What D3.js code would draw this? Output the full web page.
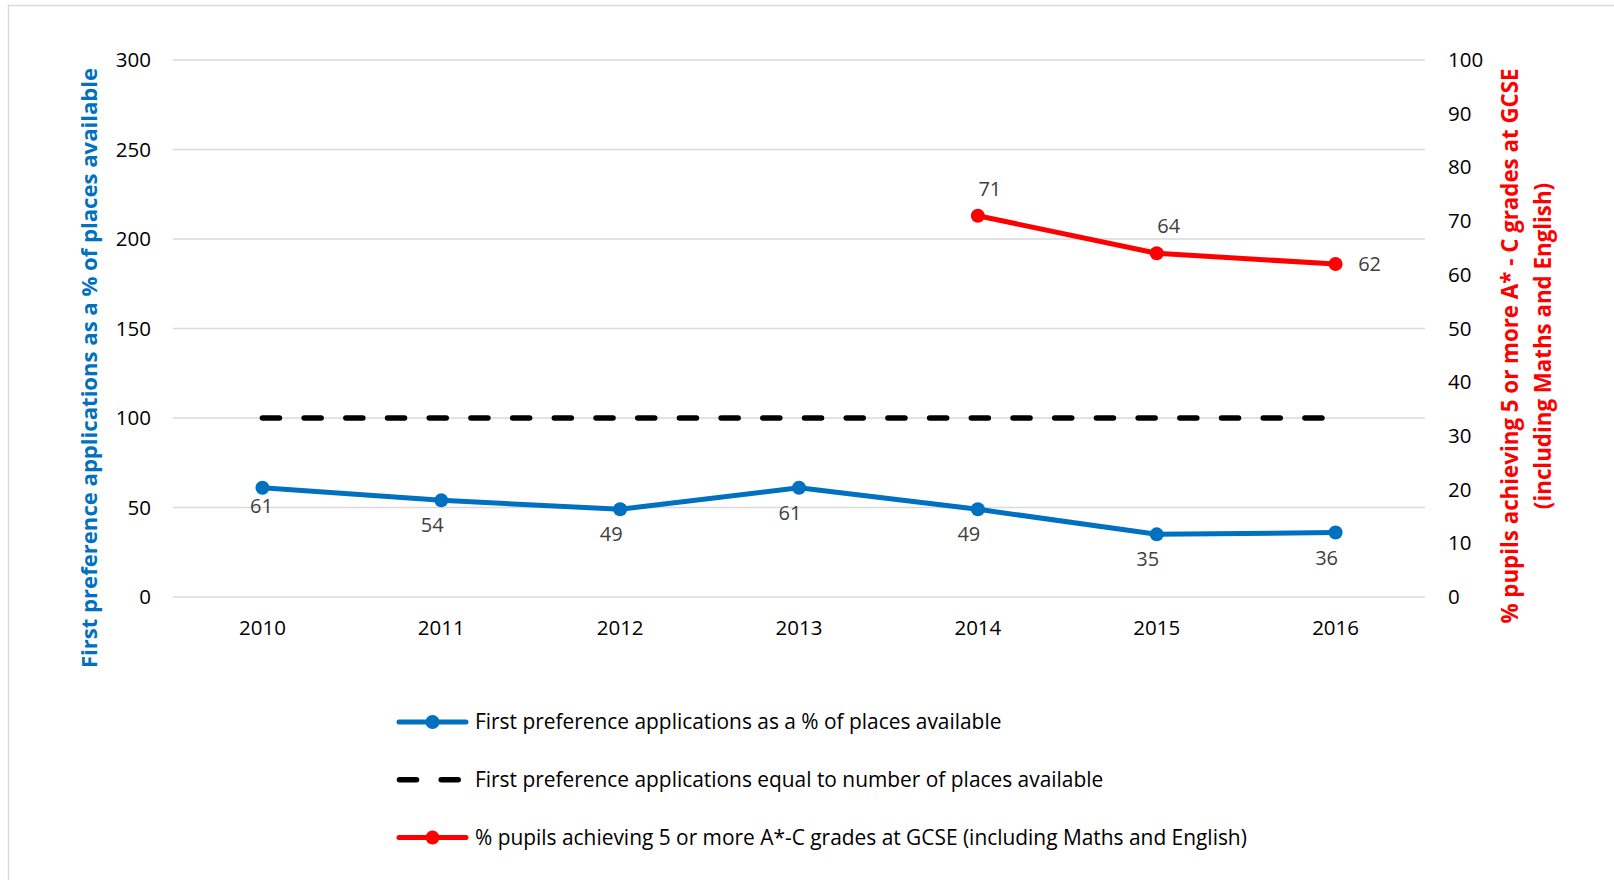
<!DOCTYPE html>
<html>
<head>
<meta charset="utf-8">
<script src="https://cdn.jsdelivr.net/npm/d3@7"></script>
<style>
  html, body { margin: 0; padding: 0; background: #fff; }
  svg { display: block; font-family: "Open Sans", "Noto Sans", sans-serif; }
</style>
</head>
<body>
<svg id="chart" width="1614" height="880"></svg>
<script>
// ---- data ----
const years = ["2010", "2011", "2012", "2013", "2014", "2015", "2016"];
const firstPrefPct = [61, 54, 49, 61, 49, 35, 36];
const equalLine = [100, 100, 100, 100, 100, 100, 100];
const gcseYears = ["2014", "2015", "2016"];
const gcsePct = [71, 64, 62];
const gcseLabelPos = ["top", "top", "right"];
const leftTicks = [0, 50, 100, 150, 200, 250, 300];
const rightTicks = [0, 10, 20, 30, 40, 50, 60, 70, 80, 90, 100];
const leftTitle = "First preference applications as a % of places available";
const rightTitle = ["% pupils achieving 5 or more A* - C grades at GCSE", "(including Maths and English)"];
const legendItems = [
  "First preference applications as a % of places available",
  "First preference applications equal to number of places available",
  "% pupils achieving 5 or more A*-C grades at GCSE (including Maths and English)"
];

const BLUE = "#0070C0", RED = "#FF0000", BLACK = "#000000", GRID = "#D9D9D9", LABEL = "#404040";

const svg = d3.select("#chart");
const m = { left: 173, right: 1425, top: 60, bottom: 597 };

// chart area border (left/top)
svg.append("path").attr("d", "M8.5,880 V5.5 H1614")
  .attr("fill", "none").attr("stroke", "#D9D9D9").attr("stroke-width", 1.5);

const x = d3.scaleBand().domain(years).range([m.left, m.right]);
const cx = d => x(d) + x.bandwidth() / 2;
const yL = d3.scaleLinear().domain([0, 300]).range([m.bottom, m.top]);
const yR = d3.scaleLinear().domain([0, 100]).range([m.bottom, m.top]);

// gridlines
svg.append("g").selectAll("line").data(leftTicks).join("line")
  .attr("x1", m.left).attr("x2", m.right)
  .attr("y1", d => yL(d)).attr("y2", d => yL(d))
  .attr("stroke", GRID).attr("stroke-width", 1.5);

// left axis
const gL = svg.append("g").attr("transform", `translate(${m.left - 22},0)`)
  .call(d3.axisLeft(yL).tickValues(leftTicks).tickSize(0).tickPadding(0));
gL.select(".domain").remove();
gL.selectAll("text").attr("font-size", 20.5).attr("fill", "#000").attr("font-family", "Open Sans");

// right axis
const gR = svg.append("g").attr("transform", `translate(${m.right + 23},0)`)
  .call(d3.axisRight(yR).tickValues(rightTicks).tickSize(0).tickPadding(0));
gR.select(".domain").remove();
gR.selectAll("text").attr("font-size", 20.5).attr("fill", "#000").attr("font-family", "Open Sans");

// bottom axis
const gB = svg.append("g").attr("transform", `translate(0,${m.bottom + 19})`)
  .call(d3.axisBottom(x).tickSize(0).tickPadding(0));
gB.select(".domain").remove();
gB.selectAll("text").attr("font-size", 20.5).attr("fill", "#000").attr("font-family", "Open Sans").attr("dy", "0.95em");

// axis titles
svg.append("text")
  .attr("transform", `translate(97,368) rotate(-90)`)
  .attr("text-anchor", "middle")
  .attr("font-size", 22.1).attr("font-weight", "bold").attr("fill", BLUE)
  .text(leftTitle);

const rt = svg.append("text")
  .attr("transform", `translate(1510,346) rotate(-90)`)
  .attr("text-anchor", "middle")
  .attr("font-size", 22.3).attr("font-weight", "bold").attr("fill", RED);
rt.selectAll("tspan").data(rightTitle).join("tspan")
  .attr("x", 0).attr("dy", (d, i) => i === 0 ? "0.35em" : "1.47em").text(d => d);

// dashed equal line
const lineL = d3.line().x((d, i) => cx(years[i])).y(d => yL(d));
svg.append("path").datum(equalLine).attr("d", lineL)
  .attr("fill", "none").attr("stroke", BLACK).attr("stroke-width", 5.5)
  .attr("stroke-linecap", "round").attr("stroke-dasharray", "17,24.7");

// blue series
svg.append("path").datum(firstPrefPct).attr("d", lineL)
  .attr("fill", "none").attr("stroke", BLUE).attr("stroke-width", 5).attr("stroke-linejoin", "round");
svg.append("g").selectAll("circle").data(firstPrefPct).join("circle")
  .attr("cx", (d, i) => cx(years[i])).attr("cy", d => yL(d)).attr("r", 7).attr("fill", BLUE);
svg.append("g").selectAll("text").data(firstPrefPct).join("text")
  .attr("x", (d, i) => cx(years[i]) - (i === 0 ? 1 : 9)).attr("y", (d, i) => yL(d) + (i === 0 ? 18 : 25))
  .attr("dy", "0.35em").attr("text-anchor", "middle")
  .attr("font-size", 20).attr("fill", LABEL).text(d => d);

// red series
const lineR = d3.line().x((d, i) => cx(gcseYears[i])).y(d => yR(d));
svg.append("path").datum(gcsePct).attr("d", lineR)
  .attr("fill", "none").attr("stroke", RED).attr("stroke-width", 5).attr("stroke-linejoin", "round");
svg.append("g").selectAll("circle").data(gcsePct).join("circle")
  .attr("cx", (d, i) => cx(gcseYears[i])).attr("cy", d => yR(d)).attr("r", 7).attr("fill", RED);
svg.append("g").selectAll("text").data(gcsePct).join("text")
  .attr("x", (d, i) => cx(gcseYears[i]) + (gcseLabelPos[i] === "right" ? 34 : 12))
  .attr("y", (d, i) => yR(d) + (gcseLabelPos[i] === "right" ? 0 : -27))
  .attr("dy", "0.35em").attr("text-anchor", "middle")
  .attr("font-size", 20).attr("fill", LABEL).text(d => d);

// legend
const legendColors = [BLUE, BLACK, RED];
const lg = svg.append("g");
const rowY = i => 722 + i * 57.8;
legendItems.forEach((t, i) => {
  const g = lg.append("g").attr("transform", `translate(0,${rowY(i)})`);
  if (i === 1) {
    g.append("line").attr("x1", 399.5).attr("x2", 464).attr("y1", 0).attr("y2", 0)
      .attr("stroke", BLACK).attr("stroke-width", 5.5).attr("stroke-linecap", "round")
      .attr("stroke-dasharray", "17,24.7");
  } else {
    g.append("line").attr("x1", 399).attr("x2", 466).attr("y1", 0).attr("y2", 0)
      .attr("stroke", legendColors[i]).attr("stroke-width", 5).attr("stroke-linecap", "round");
    g.append("circle").attr("cx", 432.5).attr("cy", 0).attr("r", 7).attr("fill", legendColors[i]);
  }
  g.append("text").attr("x", 475).attr("y", 0).attr("dy", "0.35em")
    .attr("font-size", 20.9).attr("fill", "#000").text(t);
});
</script>
</body>
</html>
